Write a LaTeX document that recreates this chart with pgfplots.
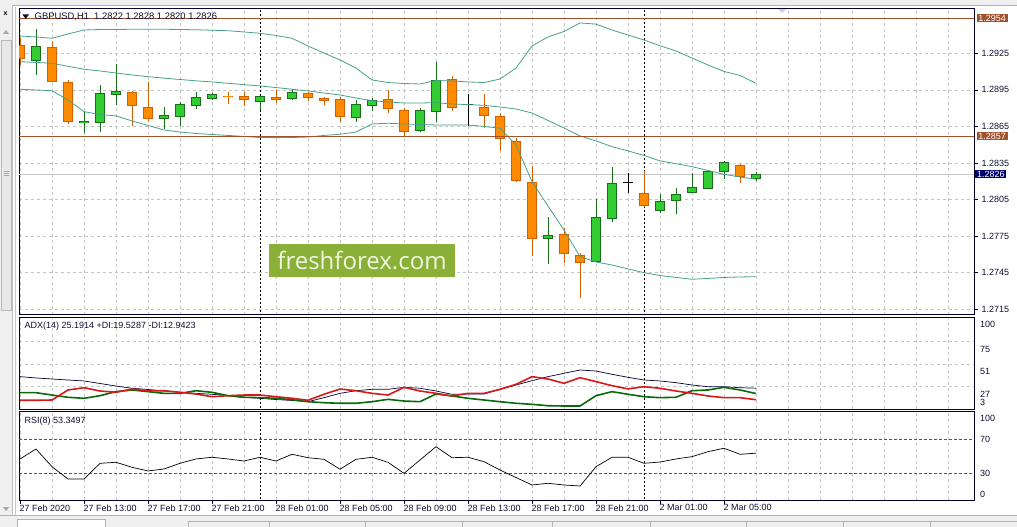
\documentclass[border=0pt]{standalone}
\usepackage{fontspec}
\setmainfont{Liberation Sans}
\newfontfamily\wmfont{Open Sans}
\usepackage{pgfplots}
\usepackage{pgfplotstable}
\pgfplotsset{compat=1.18}

\definecolor{bull}{RGB}{50,205,50}
\definecolor{bulledge}{RGB}{25,110,25}
\definecolor{bear}{RGB}{255,140,0}
\definecolor{bearedge}{RGB}{210,95,0}
\definecolor{band}{RGB}{70,160,140}
\definecolor{lvl}{RGB}{160,82,45}
\definecolor{gridc}{RGB}{196,196,196}
\definecolor{txt}{RGB}{15,15,50}
\definecolor{frame}{RGB}{0,0,40}
\definecolor{mdi}{RGB}{215,25,25}
\definecolor{pdi}{RGB}{10,105,10}
\definecolor{adxc}{RGB}{0,0,50}
\definecolor{lvlred}{RGB}{190,40,40}
\definecolor{wm}{RGB}{138,176,56}
\definecolor{chrome}{RGB}{240,240,240}
\definecolor{bidline}{RGB}{200,200,200}

\newcommand\lab{\fontsize{9}{10}\selectfont}

% GBPUSD H1 candles: bar index, open, high, low, close
\pgfplotstableread{
k open high low close
1 1.29189 1.29449 1.29072 1.29310
4 1.28681 1.28771 1.28594 1.28695
5 1.28681 1.28990 1.28602 1.28922
6 1.28910 1.29162 1.28826 1.28941
9 1.28714 1.28807 1.28632 1.28741
10 1.28730 1.28851 1.28656 1.28832
11 1.28820 1.28930 1.28791 1.28889
12 1.28878 1.28922 1.28869 1.28914
15 1.28848 1.28902 1.28785 1.28897
17 1.28873 1.28955 1.28864 1.28930
21 1.28717 1.28867 1.28689 1.28832
22 1.28820 1.28881 1.28779 1.28867
25 1.28615 1.28799 1.28607 1.28785
26 1.28771 1.29181 1.28689 1.29031
33 1.27729 1.27905 1.27522 1.27757
36 1.27540 1.28055 1.27538 1.27905
37 1.27891 1.28320 1.27869 1.28184
40 1.27954 1.28096 1.27942 1.28036
41 1.28041 1.28143 1.27929 1.28093
42 1.28102 1.28271 1.28102 1.28151
43 1.28139 1.28293 1.28134 1.28282
44 1.28274 1.28367 1.28219 1.28356
46 1.28220 1.28280 1.28200 1.28260
}\bull

\pgfplotstableread{
k open high low close
0 1.29318 1.29376 1.29154 1.29203
2 1.29299 1.29345 1.29015 1.29017
3 1.29015 1.29031 1.28670 1.28689
7 1.28933 1.28943 1.28656 1.28820
8 1.28807 1.29017 1.28697 1.28709
13 1.28900 1.28930 1.28837 1.28889
14 1.28897 1.28935 1.28818 1.28864
16 1.28892 1.28949 1.28840 1.28864
18 1.28927 1.28935 1.28859 1.28886
19 1.28883 1.28889 1.28823 1.28861
20 1.28875 1.28894 1.28689 1.28730
23 1.28873 1.28949 1.28758 1.28791
24 1.28785 1.28799 1.28572 1.28607
27 1.29037 1.29064 1.28777 1.28804
29 1.28812 1.28914 1.28640 1.28738
30 1.28736 1.28763 1.28451 1.28545
31 1.28531 1.28553 1.28197 1.28205
32 1.28197 1.28326 1.27587 1.27724
34 1.27765 1.27814 1.27532 1.27601
35 1.27595 1.27609 1.27245 1.27532
39 1.28102 1.28285 1.27992 1.28000
45 1.28334 1.28342 1.28189 1.28233
}\bear

\pgfplotstableread{
k open high low close
28 1.28826 1.28914 1.28656 1.28826
38 1.28192 1.28271 1.28106 1.28192
}\doji

% Bollinger bands
\pgfplotstableread{
k up mid lo
0 1.29392 1.29181 1.28955
1 1.29384 1.29175 1.28949
2 1.29373 1.29168 1.28943
3 1.29408 1.29143 1.28867
4 1.29441 1.29119 1.28771
5 1.29445 1.29105 1.28748
6 1.29445 1.29088 1.28736
7 1.29447 1.29072 1.28695
8 1.29447 1.29058 1.28658
9 1.29447 1.29046 1.28621
10 1.29445 1.29035 1.28604
11 1.29443 1.29024 1.28592
12 1.29439 1.29015 1.28584
13 1.29435 1.29004 1.28576
14 1.29425 1.28993 1.28568
15 1.29414 1.28982 1.28559
16 1.29396 1.28969 1.28558
17 1.29373 1.28955 1.28559
18 1.29310 1.28941 1.28563
19 1.29252 1.28924 1.28576
20 1.29195 1.28908 1.28586
21 1.29129 1.28883 1.28604
22 1.29031 1.28861 1.28670
23 1.29010 1.28851 1.28676
24 1.29002 1.28842 1.28670
25 1.28998 1.28842 1.28666
26 1.29027 1.28845 1.28662
27 1.29023 1.28834 1.28662
28 1.29015 1.28829 1.28662
29 1.29010 1.28823 1.28650
30 1.29039 1.28809 1.28635
31 1.29129 1.28793 1.28498
32 1.29310 1.28760 1.28197
33 1.29384 1.28699 1.27997
34 1.29429 1.28637 1.27800
35 1.29499 1.28572 1.27582
36 1.29489 1.28531 1.27538
37 1.29441 1.28484 1.27513
38 1.29400 1.28449 1.27481
39 1.29359 1.28412 1.27450
40 1.29312 1.28367 1.27427
41 1.29269 1.28344 1.27411
42 1.29211 1.28320 1.27396
43 1.29154 1.28289 1.27403
44 1.29101 1.28257 1.27411
45 1.29068 1.28235 1.27415
46 1.29004 1.28217 1.27417
}\bands

% ADX(14), +DI, -DI
\pgfplotstableread{
k adx pdi mdi
0 37.5 20.4 12.3
1 36.1 20.4 12.3
2 35.0 17.9 12.6
3 33.9 15.5 23.3
4 32.9 14.4 25.7
5 30.2 17.2 22.2
6 27.5 21.5 20.8
7 25.1 23.3 24.3
8 23.8 21.5 22.5
9 22.2 19.7 22.5
10 20.9 19.7 20.8
11 19.7 22.5 19.0
12 18.7 20.8 16.1
13 17.4 17.2 17.2
14 15.5 15.5 17.9
15 14.4 15.1 17.9
16 13.1 14.4 16.1
17 12.1 12.9 14.4
18 10.8 10.8 12.3
19 15.1 9.7 18.7
20 19.7 9.1 24.3
21 22.5 9.1 22.5
22 24.0 10.8 19.7
23 24.0 13.3 17.9
24 26.1 11.5 26.1
25 25.1 10.8 22.2
26 22.2 19.0 19.7
27 18.7 16.9 16.9
28 19.0 14.4 19.7
29 19.0 12.6 19.7
30 24.0 10.8 24.0
31 28.6 9.1 29.3
32 33.2 8.0 37.5
33 37.5 6.5 35.0
34 41.1 6.2 30.4
35 44.6 6.2 36.4
36 43.5 17.2 32.2
37 40.0 21.5 27.9
38 36.8 18.7 24.4
39 33.9 16.1 26.8
40 32.9 15.1 25.1
41 31.1 15.5 22.2
42 28.6 22.5 19.7
43 26.8 23.3 16.9
44 26.8 26.1 15.1
45 25.7 23.3 15.1
46 25.2 19.5 12.9
}\adx

% RSI(8)
\pgfplotstableread{
k rsi
0 46.5
1 58.2
2 37.4
3 22.9
4 22.9
5 41.4
6 42.6
7 36.7
8 32.4
9 34.7
10 41.4
11 46.5
12 48.5
13 46.5
14 44.1
15 48.5
16 44.1
17 52.0
18 48.0
19 46.1
20 34.4
21 46.1
22 48.5
23 42.6
24 29.6
25 45.3
26 60.9
27 48.0
28 48.5
29 43.3
30 33.5
31 24.7
32 15.9
33 17.9
34 15.9
35 14.7
36 37.4
37 48.5
38 48.5
39 41.4
40 42.9
41 46.5
42 49.2
43 55.1
44 59.1
45 52.0
46 53.3
}\rsi

\pgfplotsset{
  panel/.style={
    scale only axis, width=955pt, anchor=north west,
    xmin=-0.0625, xmax=59.625,
    axis line style={frame, line width=0.7pt},
    major grid style={gridc, line width=0.5pt, dash pattern=on 3pt off 3pt},
    minor grid style={gridc, line width=0.5pt, dash pattern=on 3pt off 3pt},
  },
  % a candle part: error bars only, no line and no marks
  stick/.style 2 args={draw=none, no markers, forget plot,
    error bars/y dir=plus, error bars/y explicit, error bars/error mark=none,
    error bars/error bar style={line width=#2, draw=#1, solid}},
}

\begin{document}
\begin{tikzpicture}[x=1pt,y=1pt]
\useasboundingbox (0,0) rectangle (1017,-527);
\fill[white] (0,0) rectangle (1017,-527);

% terminal window chrome
\fill[chrome] (0,0) rectangle (1017,-5);
\draw[gray!60] (0,-5.5) -- (1017,-5.5);
\fill[chrome] (0,-5.5) rectangle (12.5,-527);
\draw[gray!50] (12.5,-5.5) -- (12.5,-516);
\draw[gray!45] (15.5,-7) -- (15.5,-516);
\fill[gray!18] (1.5,-40) rectangle (11,-310);
\draw[gray!55] (1.5,-40) rectangle (11,-310);
\node[font=\bfseries\fontsize{7}{7}\selectfont] at (5.5,-14) {x};
\fill[gray!70] (3,-34) -- (9,-34) -- (6,-30) -- cycle;
\foreach \yy in {171,173,175} \draw[gray!70] (3.5,-\yy) -- (8.5,-\yy);
\fill[gray!70] (3,-507) -- (9,-507) -- (6,-511) -- cycle;
\fill[chrome] (0,-515) rectangle (1017,-527);
\draw[gray!60] (0,-515.5) -- (1017,-515.5);
\fill[white] (17,-519) rectangle (105,-527);
\draw[gray!60] (17,-527) -- (17,-519) -- (105,-519) -- (105,-527);
\draw[gray!60] (188,-527) -- (188,-521.5) -- (1017,-521.5);
\foreach \xx in {269,365,462,552,650,746,843,930} \draw[gray!60] (\xx,-521.5) -- (\xx,-527);
\fill[gray!35] (777,-8) -- (787,-8) -- (782,-13) -- cycle;

% ---------- price panel ----------
\begin{axis}[panel,
  at={(19pt,-8.3pt)}, height=306.2pt,
  ymin=1.27107, ymax=1.29619,
  xtick={0,2,...,58}, xticklabels={}, xtick style={draw=none},
  ytick={1.2715,1.2745,1.2775,1.2805,1.2835,1.2865,1.2895,1.2925},
  yticklabels={1.2715,1.2745,1.2775,1.2805,1.2835,1.2865,1.2895,1.2925},
  ytick pos=right, tick align=outside, major tick length=4pt,
  ytick style={frame, line width=0.6pt},
  yticklabel style={font=\lab, text=txt, anchor=west},
  grid=major,
]
\addplot[bidline, line width=0.6pt, forget plot] coordinates {(-1,1.2826) (61,1.2826)};
\addplot[black, line width=0.6pt, dash pattern=on 2pt off 2pt] coordinates {(15,1.270) (15,1.297)};
\addplot[black, line width=0.6pt, dash pattern=on 2pt off 2pt] coordinates {(39,1.270) (39,1.297)};

% wicks
\addplot[stick={bulledge}{1pt}]
  table[x=k, y=low, y error expr=\thisrow{high}-\thisrow{low}] {\bull};
\addplot[stick={bearedge}{1pt}]
  table[x=k, y=low, y error expr=\thisrow{high}-\thisrow{low}] {\bear};
\addplot[stick={black}{1pt}]
  table[x=k, y=low, y error expr=\thisrow{high}-\thisrow{low}] {\doji};
\addplot[draw=none, no markers, forget plot, error bars/x dir=both, error bars/x fixed=0.33,
  error bars/error mark=none, error bars/error bar style={line width=1pt, draw=black, solid}]
  table[x=k, y=open] {\doji};
% bodies: edge, then fill
\addplot[stick={bulledge}{10pt}]
  table[x=k, y=open, y error expr=\thisrow{close}-\thisrow{open}] {\bull};
\addplot[stick={bull}{8pt}]
  table[x=k, y expr=\thisrow{open}+0.00008, y error expr=\thisrow{close}-\thisrow{open}-0.00016] {\bull};
\addplot[stick={bearedge}{10pt}]
  table[x=k, y=close, y error expr=\thisrow{open}-\thisrow{close}] {\bear};
\addplot[stick={bear}{8pt}]
  table[x=k, y expr=\thisrow{close}+0.00008, y error expr=\thisrow{open}-\thisrow{close}-0.00016] {\bear};

% Bollinger bands
\addplot[band, line width=0.8pt] table[x=k, y=up] {\bands};
\addplot[band, line width=0.8pt] table[x=k, y=mid] {\bands};
\addplot[band, line width=0.8pt] table[x=k, y=lo] {\bands};

% levels
\addplot[lvl, line width=0.8pt] coordinates {(-1,1.2954) (61,1.2954)};
\addplot[lvl, line width=0.8pt] coordinates {(-1,1.2857) (61,1.2857)};

\coordinate (L1) at (axis cs:59.625,1.2954);
\coordinate (L2) at (axis cs:59.625,1.2857);
\coordinate (L3) at (axis cs:59.625,1.2826);
\end{axis}

\node[anchor=west, fill=lvl, text=white, font=\lab, inner xsep=1.8pt, inner ysep=1.1pt, xshift=2.3pt] at (L1) {1.2954};
\node[anchor=west, fill=lvl, text=white, font=\lab, inner xsep=1.8pt, inner ysep=1.1pt, xshift=2.3pt] at (L2) {1.2857};
\node[anchor=west, fill={rgb,255:red,0;green,0;blue,110}, text=white, font=\lab, inner xsep=1.8pt, inner ysep=1.1pt, xshift=1pt] at (L3) {1.2826};

\fill[txt] (22.5,-14.5) -- (29,-14.5) -- (25.75,-19) -- cycle;
\node[anchor=west, font=\fontsize{9.4}{10}\selectfont, text=txt, inner sep=0pt] at (34.5,-17) {GBPUSD,H1\ \ 1.2822 1.2828 1.2820 1.2826};

\fill[wm] (268.7,-244) rectangle (455,-277.3);
\node[font=\wmfont\fontsize{24}{24}\selectfont, text={rgb,255:red,240;green,245;blue,225}] at (362,-260.3) {freshforex.com};

% ---------- ADX panel ----------
\begin{axis}[panel,
  at={(19pt,-317pt)}, height=92pt,
  ymin=3, ymax=101.1,
  xtick={0,2,...,58}, xticklabels={}, xtick style={draw=none},
  ytick={27,51,75}, yticklabels={}, ytick style={draw=none},
  grid=major,
]
\addplot[black, line width=0.6pt, dash pattern=on 2pt off 2pt] coordinates {(15,0) (15,105)};
\addplot[black, line width=0.6pt, dash pattern=on 2pt off 2pt] coordinates {(39,0) (39,105)};
\addplot[adxc, line width=0.7pt] table[x=k, y=adx] {\adx};
\addplot[pdi, line width=1.6pt] table[x=k, y=pdi] {\adx};
\addplot[mdi, line width=1.6pt] table[x=k, y=mdi] {\adx};
\end{axis}
\node[anchor=west, font=\lab, text=txt, inner sep=0pt] at (24.5,-326) {ADX(14) 25.1914 +DI:19.5287 -DI:12.9423};
\foreach \v/\yy in {100/324.3,75/349.3,51/371.7,27/394.3,3/402.7}
  \node[anchor=west, font=\lab, text=txt, inner sep=0pt] at (980,-\yy) {\v};

% ---------- RSI panel ----------
\begin{axis}[panel,
  at={(19pt,-411pt)}, height=89pt,
  ymin=-1.76, ymax=102.9,
  xtick={0,4,...,44},
  xticklabels={27 Feb 2020,27 Feb 13:00,27 Feb 17:00,27 Feb 21:00,28 Feb 01:00,28 Feb 05:00,28 Feb 09:00,28 Feb 13:00,28 Feb 17:00,28 Feb 21:00,2 Mar 01:00,2 Mar 05:00},
  minor xtick={2,6,10,14,18,22,26,30,34,38,42,46,48,50,52,54,56,58},
  xtick pos=left, tick align=outside, major tick length=3.5pt, minor tick length=0pt,
  xtick style={frame, line width=0.6pt},
  xticklabel style={anchor=north west, font=\lab, text=txt, xshift=-1.5pt, inner sep=1pt},
  ytick=\empty,
  xmajorgrids, xminorgrids,
]
\addplot[lvlred, line width=0.6pt, dash pattern=on 3pt off 2pt] coordinates {(-1,70) (61,70)};
\addplot[lvlred, line width=0.6pt, dash pattern=on 3pt off 2pt] coordinates {(-1,30) (61,30)};
\addplot[black, line width=0.6pt, dash pattern=on 2pt off 2pt] coordinates {(15,-5) (15,110)};
\addplot[black, line width=0.6pt, dash pattern=on 2pt off 2pt] coordinates {(39,-5) (39,110)};
\addplot[black, line width=0.7pt] table[x=k, y=rsi] {\rsi};
\end{axis}
\node[anchor=west, font=\lab, text=txt, inner sep=0pt] at (24.5,-421) {RSI(8) 53.3497};
\foreach \v/\yy in {100/418.3,70/439.3,30/473.3,0/494}
  \node[anchor=west, font=\lab, text=txt, inner sep=0pt] at (980,-\yy) {\v};
\end{tikzpicture}
\end{document}
